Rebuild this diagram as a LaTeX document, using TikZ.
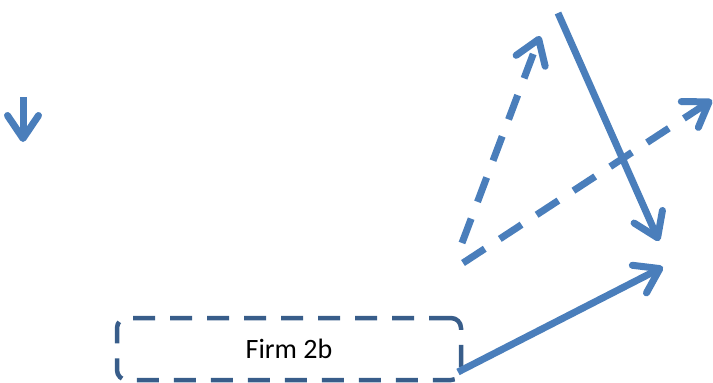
\documentclass[tikz,border=0pt]{standalone}
\usepackage{fontspec}
\setmainfont{Carlito}
\usetikzlibrary{arrows.meta}
\definecolor{arrowblue}{HTML}{4A7EBB}
\definecolor{boxblue}{HTML}{385D8A}
\begin{document}
\begin{tikzpicture}[x=1pt,y=-1pt,
  tipbarb/.tip={Straight Barb[length=23pt,width=31pt,line width=7pt,round]},
  solidarr/.style={draw=arrowblue, line width=7pt, -tipbarb},
  dasharr/.style={draw=arrowblue, line width=7pt, dash pattern=on 26pt off 18pt, -tipbarb},
  firmbox/.style={draw=boxblue, line width=4.5pt, rounded corners=10pt, dash pattern=on 22pt off 15pt,
    minimum width=344pt, minimum height=62pt, inner sep=0pt, font=\fontsize{28}{32}\selectfont}]
\useasboundingbox (0,0) rectangle (713,383);
\node[firmbox] (firm) at (289,349) {Firm 2b};
\coordinate (d1) at (23,97);
\coordinate (d2) at (23,142);
\draw[solidarr] (d1) -- (d2);
\coordinate (s1a) at (558,13);
\coordinate (s1b) at (659,241);
\draw[solidarr] (s1a) -- (s1b);
\coordinate (pa) at (462,243);
\coordinate (pb) at (540,36);
\draw[dasharr] (pa) -- (pb);
\coordinate (qa) at (463,263);
\coordinate (qb) at (712,100);
\draw[dasharr] (qa) -- (qb);
\coordinate (ra) at (458,372);
\coordinate (rb) at (663,267);
\draw[solidarr] (ra) -- (rb);
\end{tikzpicture}
\end{document}
